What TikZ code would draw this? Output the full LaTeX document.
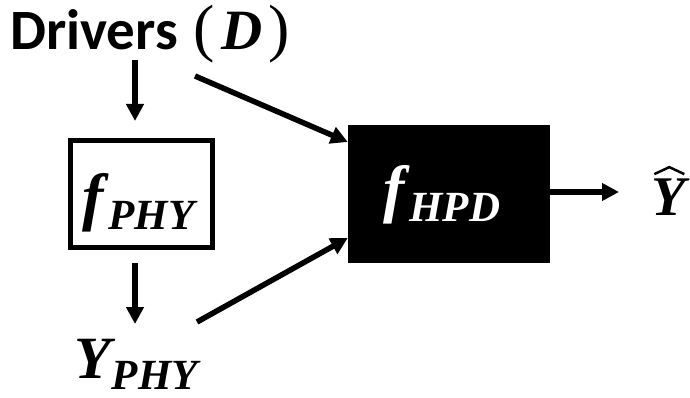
\documentclass[tikz,border=0pt]{standalone}
\usepackage{fontspec}
\setmainfont{Carlito}
\newfontfamily\mfont{Liberation Serif}
\usetikzlibrary{arrows.meta}
\newcommand\msym[1]{{\mfont\bfseries\itshape #1}}
% main, sub, main size, sub size, drop, kern
\newcommand\msub[6]{{\mfont\bfseries\itshape\fontsize{#3}{#3}\selectfont #1\kern#6\raisebox{-#5}{\fontsize{#4}{#4}\selectfont #2}}}
\begin{document}
\begin{tikzpicture}[x=1pt,y=-1pt,
  arr/.style={line width=5.5pt,-{Triangle[length=17pt,width=17pt]}},
  txt/.style={inner sep=0pt,anchor=base west}]
\useasboundingbox (0,0) rectangle (690,398);
\node[txt,font=\fontsize{57}{60}\selectfont\bfseries] (drivers) at (10,50)
  {Drivers\kern16pt{\mfont\mdseries\fontsize{64}{64}\selectfont(\kern6pt}\msym{D}{\mfont\mdseries\fontsize{64}{64}\selectfont\kern6pt)}};
\node[draw,line width=5pt,minimum width=142pt,minimum height=107pt,inner sep=0pt] (fphy) at (141.5,194) {};
\node[txt] (fphylab) at (82,218) {\msub{f}{PHY}{64}{43}{11pt}{5pt}};
\node[fill=black,minimum width=202pt,minimum height=138pt,inner sep=0pt] (fhpd) at (449,194) {};
\node[txt,text=white] (fhpdlab) at (383,210) {\msub{f}{HPD}{64}{43}{11pt}{5pt}};
\node[txt] (yphy) at (74,378) {\msub{Y}{PHY}{60}{43}{11pt}{1pt}};
\node[txt] (yhat) at (651,215) {\msym{\fontsize{56}{56}\selectfont Y}};
\draw[line width=2.5pt,line join=miter] ([xshift=-14pt,yshift=4pt]yhat.north) -- ([xshift=1pt,yshift=11pt]yhat.north) -- ([xshift=16pt,yshift=4pt]yhat.north);
\coordinate (a1s) at (135,60);
\coordinate (a1e) at (135,121);
\coordinate (a2s) at (135,263);
\coordinate (a2e) at (135,324);
\coordinate (a3s) at (195,76);
\coordinate (a4s) at (197,322);
\coordinate (a5e) at (619,192);
\draw[arr] (a1s) -- (a1e);
\draw[arr] (a2s) -- (a2e);
\draw[arr] (a3s) -- (fhpd.west |- 0,142);
\draw[arr] (a4s) -- (fhpd.west |- 0,238);
\draw[arr] (fhpd.east |- 0,192) -- (a5e);
\end{tikzpicture}
\end{document}
